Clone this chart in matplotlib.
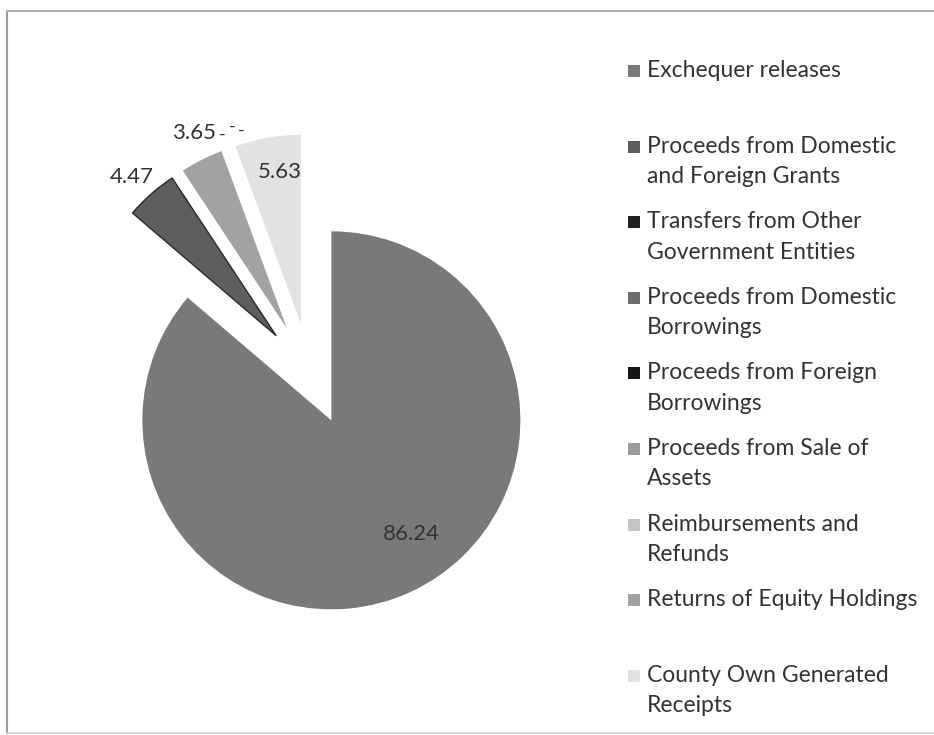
import numpy as np
import matplotlib.pyplot as plt
from matplotlib.patches import Rectangle
from matplotlib.lines import Line2D

# data
categories = [
    'Exchequer releases',
    'Proceeds from Domestic\nand Foreign Grants',
    'Transfers from Other\nGovernment Entities',
    'Proceeds from Domestic\nBorrowings',
    'Proceeds from Foreign\nBorrowings',
    'Proceeds from Sale of\nAssets',
    'Reimbursements and\nRefunds',
    'Returns of Equity Holdings',
    'County Own Generated\nReceipts',
]
values = [86.24, 4.47, 0, 0, 0, 0, 0, 3.65, 5.63]
colors = ['#797979', '#5e5e5e', '#222222', '#6c6c6c', '#151515',
          '#9c9c9c', '#c4c4c4', '#a2a2a2', '#e2e2e2']

W, H = 934, 735
fig = plt.figure(figsize=(W / 100, H / 100), dpi=100)
plt.rcParams['font.family'] = ['Lato', 'DejaVu Sans']

# outer frame (left, top, bottom edges visible)
frame = fig.add_axes([0, 0, 1, 1])
frame.set_xlim(0, W)
frame.set_ylim(H, 0)
frame.axis('off')
frame.add_line(Line2D([7, 7], [11, 733], color='#9a9a9a', lw=1.5))
frame.add_line(Line2D([7, W], [11, 11], color='#b0b0b0', lw=1.5))
frame.add_line(Line2D([7, W], [733, 733], color='#d0d0d0', lw=1.2))

# pie axes: center ~ (310, 374) px, radius ~189 px
R = 189
cx, cy = 310, 374
half = 250
ax = fig.add_axes([(cx - half) / W, (H - cy - half) / H, 2 * half / W, 2 * half / H])
explode = [0.27] * len(values)
wedges, _ = ax.pie(values, colors=colors, startangle=90, counterclock=False,
                   explode=explode, radius=1.0,
                   wedgeprops=dict(linewidth=0))
wedges[1].set_edgecolor('#2a2a2a')
wedges[1].set_linewidth(1.0)
lim = half / R
ax.set_xlim(-lim, lim)
ax.set_ylim(-lim, lim)
ax.set_aspect('equal')

# data labels: (distance, angle) where Excel put them
label_pos = {0: (1.0, -57.6), 1: (1.405, 132.1), 7: (1.415, 115.7), 8: (1.08, 98.4)}
for i, (r, a) in label_pos.items():
    t = np.deg2rad(a)
    ax.text(r * np.cos(t), r * np.sin(t), f'{values[i]:.2f}',
            ha='center', va='center', fontsize=16, color='#333333')

# zero-value labels overlapping just right of the 3.65 label
t = np.deg2rad(115.7)
x0, y0 = 1.415 * np.cos(t), 1.415 * np.sin(t)
for dx, dy in [(0.148, -0.01), (0.2, 0.035), (0.249, 0.01)]:
    ax.text(x0 + dx, y0 + dy, '-', ha='center', va='center',
            fontsize=13, color='#333333')

# legend, drawn in pixel space with fixed slots
slot0, slot = 72, 75.6
for i, (lab, col) in enumerate(zip(categories, colors)):
    y = slot0 + i * slot
    frame.add_patch(Rectangle((628, y - 7), 12, 12, facecolor=col,
                              edgecolor='none'))
    frame.text(647, y - 12, lab, ha='left', va='top', fontsize=16.5,
               color='#333333', linespacing=1.55)

fig.savefig('out.png', dpi=100)
